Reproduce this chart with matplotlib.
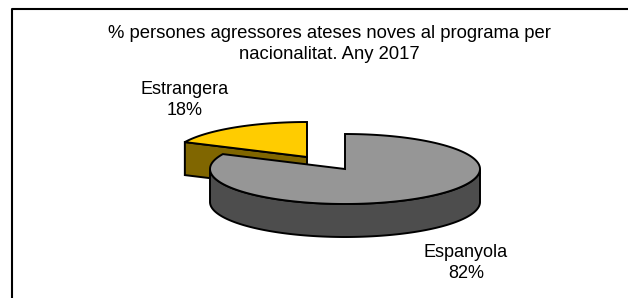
import numpy as np
import matplotlib.pyplot as plt
from matplotlib.patches import Polygon

# Datos
labels = ['Espanyola', 'Estrangera']
values = [82, 18]
top_colors = ['#969696', '#FFCC00']
side_colors = ['#4D4D4D', '#806600']
title = '% persones agressores ateses noves al programa per\nnacionalitat. Any 2017'

plt.rcParams['font.family'] = ['Liberation Sans', 'DejaVu Sans']

# Geometria del pastis 3D (en pixels)
cx, cy = 345, 169
rx, ry = 135, 35
depth = 33
explode = [(0, 0), (-38, -12)]


def arc(x0, y0, a0, a1, n=200):
    a = np.radians(np.linspace(a0, a1, n))
    return np.column_stack([x0 + rx * np.cos(a), y0 - ry * np.sin(a)])


fig = plt.figure(figsize=(6.28, 2.98), dpi=100)
ax = fig.add_axes([0, 0, 1, 1])
ax.set_xlim(0, 628)
ax.set_ylim(298, 0)
ax.axis('off')

# Angles: comença a dalt, sentit horari
total = sum(values)
start = 90.0
slices = []
for v in values:
    sweep = 360.0 * v / total
    slices.append((start - sweep, start))
    start -= sweep

# Estrangera (darrere) primer
a0, a1 = slices[1]
a0 += 360
a1 += 360
x0, y0 = cx + explode[1][0], cy + explode[1][1]
# cara radial visible
p = arc(x0, y0, a1, a1, 1)[0]
face = [(x0, y0), tuple(p), (p[0], p[1] + depth), (x0, y0 + depth)]
ax.add_patch(Polygon(face, closed=True, fc=side_colors[1], ec='black', lw=1.4))
top = np.vstack([[x0, y0], arc(x0, y0, a0, a1)])
ax.add_patch(Polygon(top, closed=True, fc=top_colors[1], ec='black', lw=1.4, joinstyle='miter'))

# Espanyola
a0, a1 = slices[0]
x0, y0 = cx + explode[0][0], cy + explode[0][1]
front = arc(x0, y0, 180, 360)
side = np.vstack([front, front[::-1] + [0, depth]])
ax.add_patch(Polygon(side, closed=True, fc=side_colors[0], ec='black', lw=1.4))
top = np.vstack([[x0, y0], arc(x0, y0, a0 + 360, a1 + 360)])
ax.add_patch(Polygon(top, closed=True, fc=top_colors[0], ec='black', lw=1.4, joinstyle='miter'))

# Etiquetes (va='baseline' -> linia de base de la darrera linia)
ax.text(185, 115, f'{labels[1]}\n{values[1]}%', ha='center', va='baseline',
        fontsize=13, linespacing=1.32)
ax.text(466, 278, f'{labels[0]}\n{values[0]}%', ha='center', va='baseline',
        fontsize=13, linespacing=1.32)

# Titol
ax.text(329, 59, title, ha='center', va='baseline', fontsize=13.3, linespacing=1.32)

# Marc
ax.plot([12, 12, 640], [310, 9, 9], color='black', lw=1.5, clip_on=False)

plt.savefig('out.png', dpi=100)
